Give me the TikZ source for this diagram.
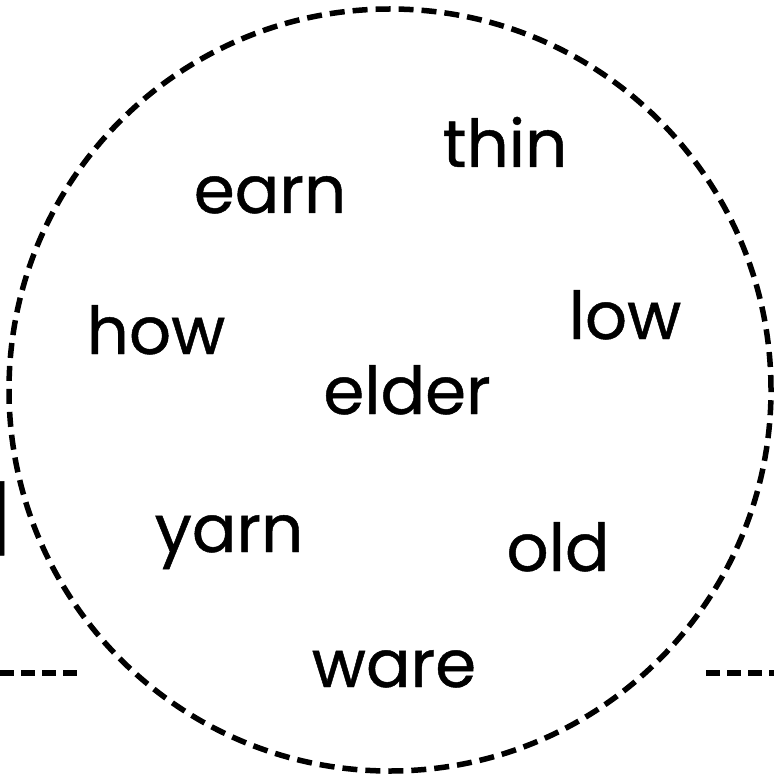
\documentclass[tikz,border=0pt]{standalone}
\usepackage{fontspec}
\setmainfont{Poppins}
\newfontfamily\wordfont[FakeBold=0.7]{Poppins}
\tikzset{
  word/.style={anchor=base, inner sep=0pt, font=\wordfont\fontsize{66}{70}\selectfont},
  ring/.style={draw=black, line width=5.5pt, dash pattern=on 15pt off 8pt},
  rule/.style={draw=black, line width=5.5pt, dash pattern=on 14pt off 7pt}
}
\begin{document}
\begin{tikzpicture}[x=1pt,y=-1pt]
\useasboundingbox (0,0) rectangle (773,783);
\node[ring, circle, minimum size=762pt, inner sep=0pt] (c) at (390,390) {};
\node[word] (thin) at (505,167) {thin};
\node[word] (earn) at (270,213) {earn};
\node[word] (how) at (156,354) {how};
\node[word] (low) at (625,339) {low};
\node[word] (elder) at (407,414) {elder};
\node[word] (yarn) at (229,552) {yarn};
\node[word] (old) at (558,571) {old};
\node[word] (ware) at (394,687) {ware};
\node[word, anchor=base east] (br) at (13,543) {]};
\coordinate (l1) at (0,673);
\coordinate (l2) at (77,673);
\coordinate (r1) at (706,673);
\coordinate (r2) at (780,673);
\draw[rule] (l1) -- (l2);
\draw[rule] (r1) -- (r2);
\end{tikzpicture}
\end{document}
